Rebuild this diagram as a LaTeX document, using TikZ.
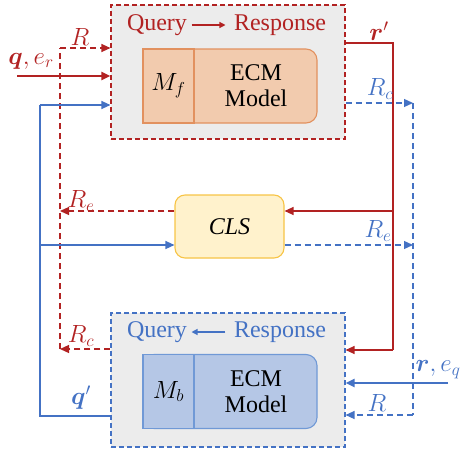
\documentclass[tikz,border=0pt]{standalone}
\usepackage{amsmath}
\usepackage{bm}
\usepackage{fontspec}
\setmainfont{Liberation Serif}
\usetikzlibrary{arrows.meta,positioning,calc}

\definecolor{fwdred}{RGB}{178,34,34}
\definecolor{bwdblue}{RGB}{68,114,196}
\definecolor{boxgray}{RGB}{236,236,236}
\definecolor{fwdfill}{RGB}{242,203,174}
\definecolor{fwdedge}{RGB}{226,145,95}
\definecolor{bwdfill}{RGB}{181,199,230}
\definecolor{bwdedge}{RGB}{112,153,214}
\definecolor{clsfill}{RGB}{255,242,204}
\definecolor{clsedge}{RGB}{247,196,70}

\begin{document}
\begin{tikzpicture}[
            x=1pt,y=-1pt,
            font=\fontsize{24}{28}\selectfont,
            outerbox/.style={draw,dash pattern=on 5pt off 3pt,line width=1.1pt,
                fill=boxgray,minimum width=234pt,minimum height=134pt,inner sep=0pt},
            ecmbody/.style={draw,line width=1.1pt,rounded corners=11pt,
                minimum width=174pt,minimum height=74pt,inner sep=0pt},
            mbox/.style={draw,line width=1.1pt,minimum width=51pt,
                minimum height=74pt,inner sep=0pt},
            tip/.style={-{Triangle[length=9pt,width=8pt]}},
            smalltip/.style={-{Triangle[length=6pt,width=6pt]}},
            thin line/.style={line width=1.2pt},
            dash line/.style={line width=1.2pt,dash pattern=on 6pt off 4pt},
            thick line/.style={line width=2.6pt}]

        \useasboundingbox (0,0) rectangle (462,452);

        % forward model (top)
        \node[outerbox,draw=fwdred] (fbox) at (228,72) {};
        \node[fwdred] (fquery) at (157,25) {Query};
        \node[fwdred] (fresp) at (280,25) {Response};
        \draw[fwdred,thin line,smalltip,shorten <=1pt,shorten >=5pt] (fquery) -- (fresp);
        \node[ecmbody,draw=fwdedge,fill=fwdfill] (fecm) at (230,86) {};
        \node[mbox,draw=fwdedge,fill=fwdfill,anchor=west] (fm) at (fecm.west) {$M_f$};
        \node[align=center] (fmodel) at ($(fm.east)!.5!(fecm.east)$) {ECM\\[-2pt]Model};

        % backward model (bottom)
        \node[outerbox,draw=bwdblue] (bbox) at (228,380) {};
        \node[bwdblue] (bquery) at (157,332) {Query};
        \node[bwdblue] (bresp) at (280,332) {Response};
        \draw[bwdblue,thin line,smalltip,shorten <=5pt,shorten >=1pt] (bresp) -- (bquery);
        \node[ecmbody,draw=bwdedge,fill=bwdfill] (becm) at (230,391.5) {};
        \node[mbox,draw=bwdedge,fill=bwdfill,anchor=west] (bm) at (becm.west) {$M_b$};
        \node[align=center] (bmodel) at ($(bm.east)!.5!(becm.east)$) {ECM\\[-2pt]Model};

        % classifier
        \node[draw=clsedge,fill=clsfill,line width=1.1pt,rounded corners=10pt,
            minimum width=109pt,minimum height=63pt] (cls) at (229.5,226.5) {$\mathit{CLS}$};

        % corner points
        \coordinate (rtop) at (60,48);
        \coordinate (re) at (60,211);
        \coordinate (rc) at (60,349);
        \coordinate (qtop) at (40,105);
        \coordinate (qmid) at (40,245);
        \coordinate (qbot) at (40,416);
        \coordinate (qin) at (17,76);
        \coordinate (rpa) at (393,43);
        \coordinate (rpb) at (393,211);
        \coordinate (rpc) at (393,350);
        \coordinate (bra) at (413,103);
        \coordinate (brb) at (413,245);
        \coordinate (brc) at (413,415);
        \coordinate (rin) at (448,383);

        % left side
        \draw[fwdred,dash line] (rc) -- (rtop);
        \draw[fwdred,dash line,tip] (rtop) -- (fbox.west |- rtop);
        \draw[fwdred,dash line,tip] (cls.west |- re) -- (re);
        \draw[fwdred,dash line,tip] (bbox.west |- rc) -- (rc);
        \draw[fwdred,thick line,tip] (qin) -- (fbox.west |- qin);
        \draw[bwdblue,thin line] (bbox.west |- qbot) -- (qbot) -- (qtop);
        \draw[bwdblue,thin line,tip] (qtop) -- (fbox.west |- qtop);
        \draw[bwdblue,thin line,tip] (qmid) -- (cls.west |- qmid);

        % right side
        \draw[fwdred,thin line] (fbox.east |- rpa) -- (rpa) -- (rpc);
        \draw[fwdred,thin line,tip] (rpc) -- (bbox.east |- rpc);
        \draw[fwdred,thin line,tip] (rpb) -- (cls.east |- rpb);
        \draw[bwdblue,dash line,tip] (fbox.east |- bra) -- (bra);
        \draw[bwdblue,dash line] (bra) -- (brc);
        \draw[bwdblue,dash line,tip] (brc) -- (bbox.east |- brc);
        \draw[bwdblue,dash line,tip] (cls.east |- brb) -- (brb);
        \draw[bwdblue,thick line,tip] (rin) -- (bbox.east |- rin);

        % labels
        \node[fwdred] (lr) at (80,37) {$R$};
        \node[fwdred] (lqer) at (31,61) {$\bm{q},e_r$};
        \node[fwdred] (lre) at (81,201) {$R_e$};
        \node[fwdred] (lrc) at (81,336) {$R_c$};
        \node[bwdblue] (lqp) at (81,398) {$\bm{q}'$};
        \node[fwdred] (lrp) at (379,31) {$\bm{r}'$};
        \node[bwdblue] (lrcb) at (380,89) {$R_c$};
        \node[bwdblue] (lreb) at (378,231) {$R_e$};
        \node[bwdblue] (lreq) at (438,370) {$\bm{r},e_q$};
        \node[bwdblue] (lrb) at (377,403) {$R$};
    \end{tikzpicture}
\end{document}
